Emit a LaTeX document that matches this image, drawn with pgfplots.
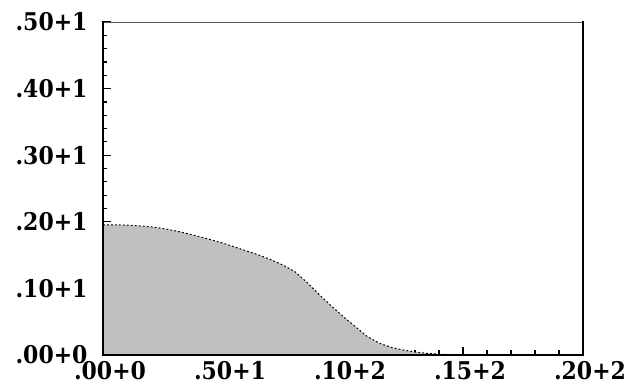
\documentclass[border=0pt]{standalone}
\usepackage{pgfplots}
\pgfplotsset{compat=1.18}
\usepackage{fontspec}
\setmainfont{DejaVu Serif Condensed}
\begin{document}
\begin{tikzpicture}
\begin{axis}[
  scale only axis,
  width=480bp, height=333bp,
  xmin=0, xmax=20, ymin=0, ymax=5,
  axis line style={draw=none},
  xtick={0,5,10,15,20},
  ytick={0,1,2,3,4,5},
  xticklabels={.00+0,.50+1,.10+2,.15+2,.20+2},
  yticklabels={.00+0,.10+1,.20+1,.30+1,.40+1,.50+1},
  minor x tick num=4, minor y tick num=4,
  xtick pos=left, ytick pos=left,
  tick align=inside,
  major tick length=8bp, minor tick length=4.5bp,
  every tick/.style={black, line width=1.2pt},
  tick label style={font=\fontsize{24.5}{26}\selectfont\bfseries},
  x tick label style={yshift=-3bp, xshift=7bp},
  y tick label style={xshift=-12bp},
  clip=false,
]
\addplot[draw=none, fill={rgb,255:red,192;green,192;blue,192}] coordinates {
(0,1.955) (0.5,1.955) (1.0,1.95) (1.5,1.94) (2.0,1.925) (2.5,1.90) (3.0,1.865)
(3.5,1.825) (4.0,1.78) (4.5,1.73) (5.0,1.68) (5.5,1.62) (6.0,1.56) (6.5,1.50)
(7.0,1.43) (7.5,1.35) (8.0,1.25) (8.5,1.09) (9.0,0.91) (9.5,0.74) (10.0,0.58)
(10.5,0.43) (11.0,0.28) (11.5,0.18) (12.0,0.115) (12.5,0.075) (13.0,0.045)
(13.5,0.025) (14.0,0.012) (14.5,0.005) (15.0,0.0)
} \closedcycle;
\addplot[black, line width=1pt, dash pattern=on 1.8pt off 2.2pt] coordinates {
(0,1.955) (0.5,1.955) (1.0,1.95) (1.5,1.94) (2.0,1.925) (2.5,1.90) (3.0,1.865)
(3.5,1.825) (4.0,1.78) (4.5,1.73) (5.0,1.68) (5.5,1.62) (6.0,1.56) (6.5,1.50)
(7.0,1.43) (7.5,1.35) (8.0,1.25) (8.5,1.09) (9.0,0.91) (9.5,0.74) (10.0,0.58)
(10.5,0.43) (11.0,0.28) (11.5,0.18) (12.0,0.115) (12.5,0.075) (13.0,0.045)
(13.5,0.025) (14.0,0.012) (14.5,0.005) (15.0,0.0)
};
\draw[gray!70!black, line width=1pt] (rel axis cs:0,1) -- (rel axis cs:1,1);
\draw[black, line width=2pt, line cap=rect] (rel axis cs:0,1) -- (rel axis cs:0,0) -- (rel axis cs:1,0) -- (rel axis cs:1,1);
\end{axis}
\pgfresetboundingbox
\path[use as bounding box] ([xshift=-103bp,yshift=-34bp]current axis.south west) rectangle ([xshift=46bp,yshift=22bp]current axis.north east);
\end{tikzpicture}
\end{document}
